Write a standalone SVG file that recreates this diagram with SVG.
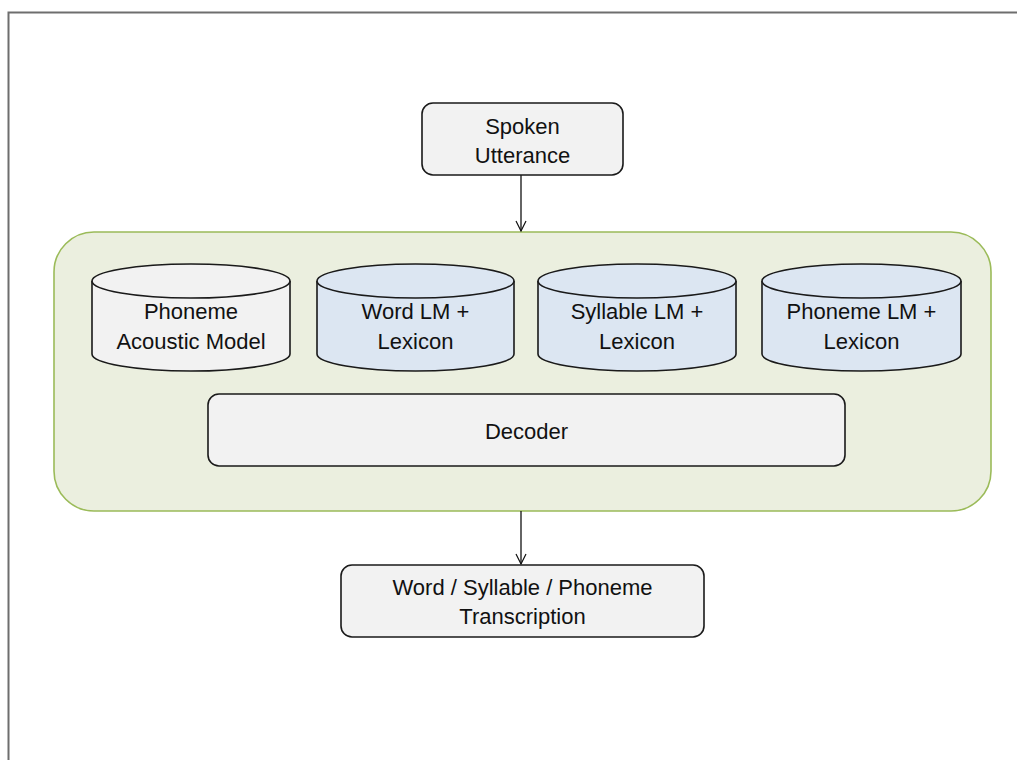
<svg xmlns="http://www.w3.org/2000/svg" width="1017" height="760" viewBox="0 0 1017 760">
  <style>
    .frame { fill: none; stroke: #6e6e6e; stroke-width: 2; }
    .box { fill: #f2f2f2; stroke: #1a1a1a; stroke-width: 1.6; }
    .cyl-grey { fill: #f2f2f2; stroke: #1a1a1a; stroke-width: 1.6; }
    .cyl-blue { fill: #dce6f2; stroke: #1a1a1a; stroke-width: 1.6; }
    .group { fill: #ebefdf; stroke: #9bbb59; stroke-width: 1.6; }
    .lbl { font-family: "Liberation Sans", Arial, sans-serif; font-size: 22px; fill: #111; text-anchor: middle; }
    .edge { stroke: #111; stroke-width: 1.3; fill: none; marker-end: url(#arrow); }
  </style>
  <defs>
    <marker id="arrow" viewBox="0 0 12 12" refX="11" refY="6" markerWidth="12" markerHeight="12" markerUnits="userSpaceOnUse" orient="auto">
      <path d="M1,1 L11,6 L1,11" fill="none" stroke="#111" stroke-width="1.2"/>
    </marker>
  </defs>

  <rect width="1017" height="760" fill="#ffffff"/>
  <!-- page frame -->
  <path class="frame" d="M8.5,760 V12.5 H1017"/>

  <!-- recogniser container -->
  <g id="recogniser">
    <rect class="group" x="54" y="232" width="937" height="279" rx="40" ry="40"/>
  </g>

  <g id="connectors">
    <line class="edge" x1="521" y1="175" x2="521" y2="231"/>
    <line class="edge" x1="521" y1="511" x2="521" y2="564"/>
  </g>

  <g id="spoken-utterance">
    <rect class="box" x="422" y="103" width="201" height="72" rx="11"/>
    <text class="lbl" x="522.5" y="134">Spoken</text>
    <text class="lbl" x="522.5" y="163">Utterance</text>
  </g>

  <g id="acoustic-model">
    <path class="cyl-grey" d="M92,281 V354 A99,17 0 0 0 290,354 V281 A99,17 0 0 0 92,281 Z"/>
    <path class="cyl-grey" d="M92,281 A99,17 0 0 0 290,281"/>
    <text class="lbl" x="191" y="319">Phoneme</text>
    <text class="lbl" x="191" y="349">Acoustic Model</text>
  </g>

  <g id="word-lm">
    <path class="cyl-blue" d="M317,281 V354 A98.5,17 0 0 0 514,354 V281 A98.5,17 0 0 0 317,281 Z"/>
    <path class="cyl-blue" d="M317,281 A98.5,17 0 0 0 514,281"/>
    <text class="lbl" x="415.5" y="319">Word LM +</text>
    <text class="lbl" x="415.5" y="349">Lexicon</text>
  </g>

  <g id="syllable-lm">
    <path class="cyl-blue" d="M538,281 V354 A99,17 0 0 0 736,354 V281 A99,17 0 0 0 538,281 Z"/>
    <path class="cyl-blue" d="M538,281 A99,17 0 0 0 736,281"/>
    <text class="lbl" x="637" y="319">Syllable LM +</text>
    <text class="lbl" x="637" y="349">Lexicon</text>
  </g>

  <g id="phoneme-lm">
    <path class="cyl-blue" d="M762,281 V354 A99.5,17 0 0 0 961,354 V281 A99.5,17 0 0 0 762,281 Z"/>
    <path class="cyl-blue" d="M762,281 A99.5,17 0 0 0 961,281"/>
    <text class="lbl" x="861.5" y="319">Phoneme LM +</text>
    <text class="lbl" x="861.5" y="349">Lexicon</text>
  </g>

  <g id="decoder">
    <rect class="box" x="208" y="394" width="637" height="72" rx="11"/>
    <text class="lbl" x="526.5" y="439">Decoder</text>
  </g>

  <g id="transcription">
    <rect class="box" x="341" y="565" width="363" height="72" rx="11"/>
    <text class="lbl" x="522.5" y="595">Word / Syllable / Phoneme</text>
    <text class="lbl" x="522.5" y="624">Transcription</text>
  </g>
</svg>
